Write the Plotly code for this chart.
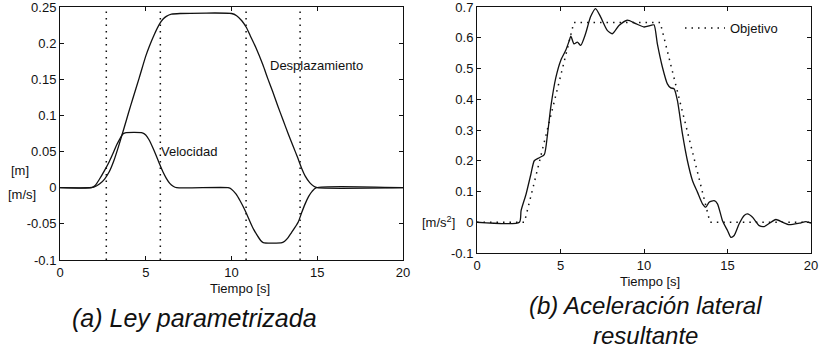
import plotly.graph_objects as go

# ---------------- data ----------------
t_desp = [0, 1.7, 2.0, 2.3, 2.6, 2.87, 3.15, 3.45, 3.74, 4.0, 4.23, 4.62, 5.0, 5.2, 5.5, 5.79, 6.0, 6.2, 6.5, 7.0,
          10.0, 10.3, 10.6, 10.86, 11.1, 11.4, 11.83, 12.1, 12.4, 12.7, 13.0, 13.3, 13.6, 13.85, 14.07, 14.3, 14.56,
          14.8, 15.0, 20.0]
desplazamiento = [0, 0, 0.001, 0.005, 0.012, 0.022, 0.038, 0.060, 0.083, 0.104, 0.122, 0.152, 0.182, 0.195, 0.212,
                  0.226, 0.233, 0.237, 0.240, 0.241, 0.241, 0.238, 0.231, 0.222, 0.210, 0.195, 0.170, 0.152, 0.133,
                  0.113, 0.094, 0.075, 0.057, 0.042, 0.028, 0.016, 0.007, 0.002, 0, 0]

t_vel = [0, 1.85, 2.05, 2.28, 2.6, 2.87, 3.1, 3.3, 3.5, 3.65, 3.8, 4.8, 5.0, 5.2, 5.4, 5.6, 5.8, 6.0, 6.2, 6.4, 6.6,
         6.8, 9.8, 10.0, 10.27, 10.5, 10.7, 10.86, 11.1, 11.3, 11.5, 11.7, 11.85, 12.95, 13.1, 13.3, 13.5, 13.7, 13.9,
         14.1, 14.3, 14.5, 14.7, 14.95, 20.0]
velocidad = [0, 0, 0.003, 0.011, 0.024, 0.036, 0.048, 0.059, 0.068, 0.074, 0.076, 0.076, 0.073, 0.066, 0.056, 0.045,
             0.033, 0.022, 0.013, 0.006, 0.002, 0, 0, -0.002, -0.009, -0.018, -0.027, -0.035, -0.048, -0.058, -0.066,
             -0.073, -0.076, -0.076, -0.074, -0.069, -0.062, -0.055, -0.047, -0.034, -0.022, -0.012, -0.005, 0, 0]

t_marcas = [2.7, 5.85, 10.85, 14.0]

t_obj = [0, 2.84, 5.8, 10.97, 13.95, 20]
objetivo = [0, 0, 0.65, 0.65, 0, 0]

t_acel = [0, 2.54, 2.64, 2.94, 3.23, 3.43, 3.73, 4.03, 4.23, 4.42, 4.72, 5.02, 5.32, 5.52, 5.62, 5.81, 6.01, 6.21,
          6.5, 6.8, 7.1, 7.4, 7.8, 8.1, 8.5, 9.0, 9.5, 10.0, 10.4, 10.6, 10.8, 11.1, 11.4, 11.6, 11.8, 12.0, 12.3,
          12.6, 12.9, 13.2, 13.5, 13.7, 13.9, 14.2, 14.4, 14.7, 15.0, 15.2, 15.4, 15.7, 16.0, 16.2, 16.5, 16.9,
          17.2, 17.6, 17.9, 18.3, 18.7, 19.3, 19.7, 20.0]
aceleracion = [0, 0, 0.038, 0.092, 0.157, 0.200, 0.210, 0.220, 0.290, 0.375, 0.470, 0.527, 0.560, 0.590, 0.605,
               0.580, 0.586, 0.575, 0.613, 0.668, 0.695, 0.668, 0.624, 0.613, 0.640, 0.657, 0.646, 0.635, 0.640,
               0.642, 0.580, 0.505, 0.450, 0.437, 0.434, 0.396, 0.288, 0.200, 0.136, 0.098, 0.060, 0.049, 0.065,
               0.070, 0.060, 0.005, -0.027, -0.049, -0.043, -0.005, 0.022, 0.027, 0.016, -0.011, -0.014, 0.0,
               0.009, 0.0, -0.008, -0.003, 0.002, -0.003]

x_ticks = [0, 5, 10, 15, 20]
x_ticktext = ["0", "5", "10", "15", "20"]
y1_ticks = [-0.1, -0.05, 0, 0.05, 0.1, 0.15, 0.2, 0.25]
y1_ticktext = ["-0.1", "-0.05", "0", "0.05", "0.1", "0.15", "0.2", "0.25"]
y2_ticks = [-0.1, 0, 0.1, 0.2, 0.3, 0.4, 0.5, 0.6, 0.7]
y2_ticktext = ["-0.1", "0", "0.1", "0.2", "0.3", "0.4", "0.5", "0.6", "0.7"]

# ---------------- figure ----------------
FONT = "Liberation Sans, Arial, sans-serif"
BLACK = "#111111"
W, H = 822, 350

fig = go.Figure()

line_solid = dict(color=BLACK, width=1.3, shape="spline", smoothing=0.6)
fig.add_trace(go.Scatter(x=t_desp, y=desplazamiento, mode="lines", line=line_solid,
                         xaxis="x", yaxis="y", showlegend=False))
fig.add_trace(go.Scatter(x=t_vel, y=velocidad, mode="lines", line=line_solid,
                         xaxis="x", yaxis="y", showlegend=False))
fig.add_trace(go.Scatter(x=t_obj, y=objetivo, mode="lines", line=dict(color=BLACK, width=1.5, dash="1.5px,5px"),
                         xaxis="x2", yaxis="y2", name="Objetivo", showlegend=True))
fig.add_trace(go.Scatter(x=t_acel, y=aceleracion, mode="lines", line=line_solid,
                         xaxis="x2", yaxis="y2", showlegend=False))

for tm in t_marcas:
    fig.add_shape(type="line", xref="x", yref="y domain", x0=tm, x1=tm, y0=0, y1=1,
                  line=dict(color=BLACK, width=1.5, dash="1.5px,5px"))

axis_common = dict(showgrid=False, zeroline=False, showline=True, linecolor=BLACK, linewidth=1,
                   mirror="ticks", ticks="inside", ticklen=4, tickcolor=BLACK, automargin=False,
                   ticklabeloverflow="allow",
                   tickfont=dict(family=FONT, size=13, color=BLACK))

fig.update_layout(
    template="none",
    width=W, height=H, autosize=False,
    margin=dict(l=0, r=0, t=0, b=0, pad=0, autoexpand=False),
    paper_bgcolor="white", plot_bgcolor="white",
    xaxis=dict(domain=[60/W, 403/W], range=[0, 20.0001], tickvals=x_ticks, ticktext=x_ticktext,
               anchor="y", **axis_common),
    yaxis=dict(domain=[1-260/H, 1-7/H], range=[-0.1, 0.25001], tickvals=y1_ticks, ticktext=y1_ticktext,
               anchor="x", **axis_common),
    xaxis2=dict(domain=[477/W, 811/W], range=[0, 20.0001], tickvals=x_ticks, ticktext=x_ticktext,
                anchor="y2", **axis_common),
    yaxis2=dict(domain=[1-253/H, 1-7/H], range=[-0.1, 0.70002], tickvals=y2_ticks, ticktext=y2_ticktext,
                anchor="x2", **axis_common),
    legend=dict(x=680/W, y=1-13/H, xanchor="left", yanchor="top", bgcolor="rgba(0,0,0,0)",
                font=dict(family=FONT, size=13, color=BLACK), itemwidth=40, borderwidth=0),
    showlegend=True,
)

def ann(text, x, y, size=13, family=FONT, xanchor="center", yanchor="middle"):
    fig.add_annotation(text=text, x=x/W, y=1-y/H, xref="paper", yref="paper", showarrow=False,
                       xanchor=xanchor, yanchor=yanchor, font=dict(family=family, size=size, color=BLACK))

ann("Desplazamiento", 268, 65, xanchor="left")
ann("Velocidad", 159, 151, xanchor="left")
ann("[m]", 20, 170)
ann("[m/s]", 22, 194)
ann("[m/s<sup>2</sup>]", 438, 222)
ann("Tiempo [s]", 240, 288)
ann("Tiempo [s]", 650, 281)
ann("<i>(a) Ley parametrizada</i>", 194, 318, size=25)
ann("<i>(b) Aceleración lateral</i>", 645, 305, size=24)
ann("<i>resultante</i>", 645, 335, size=24)

fig.write_html("out.html")
